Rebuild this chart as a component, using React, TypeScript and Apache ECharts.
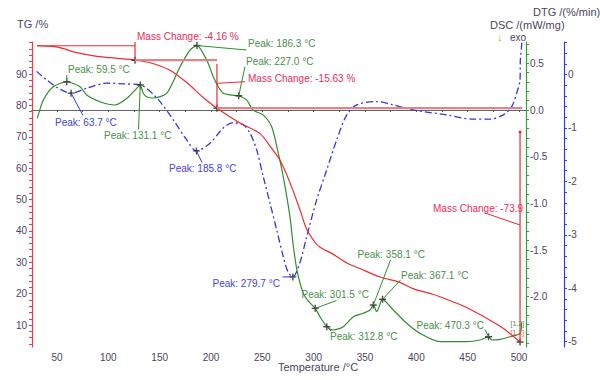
import React, { useEffect, useRef } from 'react';
import * as echarts from 'echarts';

// ---------- data ----------
const tgTemp = [30.5, 45, 52.9, 69.5, 89, 108.4, 126, 140.6, 160, 176.6, 192.2, 205.8, 228.2, 247.7, 257.5, 267.2, 277, 286.7, 293.2, 301.4, 306.2, 318.8, 332.2, 345, 364.6, 384, 396.7, 416, 423, 449, 482, 501];
const tgValues = [99.0, 98.8, 98.4, 96.8, 95.6, 95.0, 94.4, 93.6, 91.2, 87.2, 82.6, 79.1, 74.4, 71.0, 67.0, 62.5, 55.3, 46.7, 40.5, 36.3, 34.8, 32.6, 29.8, 28.0, 25.3, 23.6, 21.6, 19.8, 19.0, 15.6, 9.5, 4.6];

const dscTemp = [30.8, 36.7, 46.4, 59.5, 72.4, 78.9, 91.9, 106.5, 117.9, 127.6, 131.1, 134, 137.4, 143.5, 156.8, 169.8, 179.5, 186.3, 195.8, 202.2, 207.1, 212, 220, 227, 234.8, 240.9, 251, 259.1, 265.5, 270.4, 276.9, 280.1, 283.8, 289.9, 295, 301.5, 306.2, 312.8, 319.1, 328.9, 338.6, 348.3, 354.9, 358.1, 361.4, 367.1, 377.6, 390.6, 403.6, 423, 449, 462, 470.3, 473.7, 481.5, 491.2, 501, 502.6];
const dscValues = [-0.09, 0.107, 0.25, 0.303, 0.25, 0.16, 0.089, 0.054, 0.125, 0.232, 0.268, 0.18, 0.143, 0.129, 0.179, 0.464, 0.643, 0.691, 0.536, 0.357, 0.25, 0.179, 0.16, 0.153, 0.107, 0.0, -0.054, -0.179, -0.461, -0.715, -1.143, -1.45, -1.72, -1.964, -2.05, -2.125, -2.215, -2.322, -2.357, -2.322, -2.215, -2.178, -2.143, -2.089, -2.161, -2.028, -2.143, -2.285, -2.393, -2.482, -2.482, -2.464, -2.429, -2.464, -2.457, -2.429, -2.393, -2.28];

const dtgTemp = [30.1, 40, 51.3, 63.7, 78.9, 98.4, 114.6, 130.8, 147.1, 163.3, 176.3, 185.8, 199, 212, 221.7, 231.5, 238, 244.5, 250.9, 257.5, 264, 270.4, 275, 279.7, 286.5, 293.2, 302.9, 312.7, 322.4, 332.2, 341.9, 361.4, 377.6, 397, 429.6, 455.5, 471.7, 484.7, 492.9, 497.7, 501, 501.3, 502.6, 499.5];
const dtgValues = [0.06, -0.099, -0.255, -0.348, -0.255, -0.161, -0.174, -0.193, -0.436, -0.848, -1.223, -1.429, -1.285, -0.998, -0.899, -0.942, -1.097, -1.41, -1.91, -2.41, -2.91, -3.41, -3.695, -3.788, -3.526, -3.034, -2.346, -1.785, -1.223, -0.755, -0.567, -0.506, -0.567, -0.661, -0.755, -0.835, -0.835, -0.755, -0.599, -0.348, -0.099, 0.275, 0.588, 0.61];

const tgPeakTemp = [126, 205.8, 501];
const tgPeakValues = [94.4, 79.1, 4.6];
const dscPeakTemp = [59.5, 131.1, 186.3, 227.0, 301.5, 312.8, 358.1, 367.1, 470.3];
const dscPeakValues = [0.303, 0.268, 0.691, 0.153, -2.125, -2.322, -2.089, -2.028, -2.429];
const dtgPeakTemp = [63.7, 185.8, 279.7];
const dtgPeakValues = [-0.348, -1.429, -3.788];

const xTickLabels = [50, 100, 150, 200, 250, 300, 350, 400, 450, 500];
const tgTickLabels = [10, 20, 30, 40, 50, 60, 70, 80, 90];
const dscTickLabels = [0.5, 0.0, -0.5, -1.0, -1.5, -2.0];
const dtgTickLabels = [0, -1, -2, -3, -4, -5];

const massChangeTexts = ['Mass Change: -4.16 %', 'Mass Change: -15.63 %', 'Mass Change: -73.9'];

// ---------- styles ----------
const FONT = '"Liberation Sans", Arial, sans-serif';
const RED = '#ee2a2f';
const PINK = '#d9888a';
const GREEN = '#2f8c2f';
const BLUE = '#3535e6';
const LABEL = '#4b4560';
const TXT_RED = '#ec2a5a';
const TXT_GREEN = '#4a8f4a';
const TXT_BLUE = '#4343e0';
const PLUS = 'path://M4,0H6V4H10V6H6V10H4V6H0V4H4Z';

const range = (a: number, b: number, step: number) => {
  const out: number[] = [];
  const n = Math.round((b - a) / step);
  for (let i = 0; i <= n; i++) out.push(+(a + i * step).toFixed(4));
  return out;
};

const zip = (xs: number[], ys: number[]) => xs.map((x, i) => [x, ys[i]]);

export default function App() {
  const ref = useRef<HTMLDivElement>(null);
  useEffect(() => {
    document.body.style.margin = '0';
    if (!ref.current) return;
    const chart = echarts.init(ref.current, null, { renderer: 'svg' });
    const axisLabelBase = { color: LABEL, fontSize: 10, fontFamily: FONT };
    const option: any = {
      animation: false,
      textStyle: { fontFamily: FONT },
      grid: { left: 32, right: 74, top: 42, bottom: 33, containLabel: false },
      xAxis: {
        type: 'value',
        min: 25.65,
        max: 506.8,
        axisLine: { show: true, lineStyle: { color: '#666', width: 1.2 } },
        axisTick: { show: true, length: 2, customValues: range(50, 500, 25), lineStyle: { color: '#555' } },
        axisLabel: { ...axisLabelBase, margin: 5, customValues: xTickLabels },
        splitLine: { show: false },
      },
      yAxis: [
        {
          type: 'value', position: 'left', min: 3, max: 100.2,
          axisLine: { show: true, lineStyle: { color: '#f03a48', width: 1.2 } },
          axisTick: { show: true, length: 3, customValues: range(4, 100, 2), lineStyle: { color: '#f03a48' } },
          axisLabel: { ...axisLabelBase, margin: 5, customValues: tgTickLabels },
          splitLine: { show: false },
        },
        {
          type: 'value', position: 'right', offset: 0, min: -2.539, max: 0.729,
          axisLine: { show: true, onZero: false, lineStyle: { color: '#35a035', width: 1.2 } },
          axisTick: { show: true, length: 3, customValues: range(-2.5, 0.7, 0.1), lineStyle: { color: '#35a035' } },
          axisLabel: { ...axisLabelBase, margin: 4, customValues: dscTickLabels, formatter: (v: number) => v.toFixed(1) },
          splitLine: { show: false },
        },
        {
          type: 'value', position: 'right', offset: 38, min: -5.1, max: 0.61,
          axisLine: { show: true, onZero: false, lineStyle: { color: '#2f3ff0', width: 1.2 } },
          axisTick: { show: true, length: 3, customValues: range(-5.0, 0.6, 0.2), lineStyle: { color: '#2f3ff0' } },
          axisLabel: { ...axisLabelBase, margin: 4, customValues: dtgTickLabels, formatter: (v: number) => String(Math.round(v)) },
          splitLine: { show: false },
        },
      ],
      series: [
        {
          type: 'line', name: 'DTG', yAxisIndex: 2, data: zip(dtgTemp, dtgValues), smooth: 0.3,
          showSymbol: false, lineStyle: { color: BLUE, width: 1.3, type: [7, 3, 2, 3] }, z: 2,
        },
        {
          type: 'line', name: 'DSC', yAxisIndex: 1, data: zip(dscTemp, dscValues), smooth: 0.25,
          showSymbol: false, lineStyle: { color: GREEN, width: 1.2 }, z: 3,
        },
        {
          type: 'line', name: 'TG', yAxisIndex: 0, data: zip(tgTemp, tgValues), smooth: 0.3,
          showSymbol: false, lineStyle: { color: RED, width: 1.2 }, z: 4,
        },
        { type: 'scatter', yAxisIndex: 0, data: zip(tgPeakTemp, tgPeakValues), symbol: PLUS, symbolSize: 7, itemStyle: { color: '#222' }, z: 10 },
        { type: 'scatter', yAxisIndex: 1, data: zip(dscPeakTemp, dscPeakValues), symbol: PLUS, symbolSize: 7, itemStyle: { color: '#222' }, z: 10 },
        { type: 'scatter', yAxisIndex: 2, data: zip(dtgPeakTemp, dtgPeakValues), symbol: PLUS, symbolSize: 7, itemStyle: { color: '#222' }, z: 10 },
      ],
    };
    chart.setOption(option);

    const px = (yi: number, t: number, v: number) =>
      chart.convertToPixel({ xAxisIndex: 0, yAxisIndex: yi } as any, [t, v]) as number[];

    const g: any[] = [];
    const text = (t: string, x: number, y: number, fill: string, size = 10, align = 'left') =>
      g.push({ type: 'text', x, y, z: 100, style: { text: t, fill, font: `${size}px ${FONT}`, verticalAlign: 'middle', align } });
    const line = (x1: number, y1: number, x2: number, y2: number, stroke: string, lw = 1) =>
      g.push({ type: 'line', z: 50, shape: { x1, y1, x2, y2 }, style: { stroke, lineWidth: lw } });

    // axis titles
    text('TG /%', 17, 24, LABEL, 11);
    text('DTG /(%/min)', 533, 12, LABEL, 11);
    text('DSC /(mW/mg)', 490, 25, LABEL, 11);
    text('↓', 497, 37, '#c49a5a', 11);
    text('exo', 510, 37, LABEL, 10);
    text('Temperature /°C', 318, 367, LABEL, 11, 'center');

    // mass change step 1
    const a0 = px(0, tgTemp[0], tgValues[0]);
    const a1 = px(0, tgPeakTemp[0], tgPeakValues[0]);
    line(a0[0], a0[1], a1[0], a0[1], RED, 1.2);
    line(a1[0], 42, a1[0], a1[1], RED, 1.2);
    const b1 = px(0, tgPeakTemp[1], tgPeakValues[1]);
    line(a1[0], a1[1], b1[0], a1[1], PINK, 2.2);
    text(massChangeTexts[0], 137, 36, TXT_RED);
    // step 2
    line(b1[0], 64, b1[0], b1[1], RED, 1.2);
    line(b1[0], 83.3, 245, 81.7, RED, 1);
    const c1 = px(0, tgPeakTemp[2], tgPeakValues[2]);
    line(b1[0], b1[1], c1[0] + 2, b1[1], PINK, 2.2);
    text(massChangeTexts[1], 248, 78, TXT_RED);
    // step 3
    line(c1[0], 132, c1[0], c1[1], RED, 1.2);
    g.push({ type: 'circle', z: 60, shape: { cx: c1[0], cy: 132, r: 1.5 }, style: { fill: RED } });
    line(485, 213, c1[0], 225, RED, 1);
    text(massChangeTexts[2], 433, 208.5, TXT_RED);

    // peak labels
    const dsc = (i: number) => px(1, dscPeakTemp[i], dscPeakValues[i]);
    const dtg = (i: number) => px(2, dtgPeakTemp[i], dtgPeakValues[i]);
    const peakTxt = (t: number) => `Peak: ${t.toFixed(1)} °C`;

    let p = dsc(0); line(p[0], p[1], p[0], 75, GREEN); text(peakTxt(dscPeakTemp[0]), 68, 69.5, TXT_GREEN);
    p = dtg(0); line(p[0], p[1], 83, 115.5, BLUE); text(peakTxt(dtgPeakTemp[0]), 55, 122, TXT_BLUE);
    p = dsc(1); line(p[0], p[1], 138.5, 129.5, GREEN); text(peakTxt(dscPeakTemp[1]), 104, 135, TXT_GREEN);
    p = dtg(1); line(p[0], p[1], 202, 162.5, BLUE); text(peakTxt(dtgPeakTemp[1]), 169, 168.5, TXT_BLUE);
    p = dsc(2); line(p[0], p[1], 246.5, 50, GREEN); text(peakTxt(dscPeakTemp[2]), 248, 43.5, TXT_GREEN);
    p = dsc(3); line(p[0], p[1], 245, 66.5, GREEN); text(peakTxt(dscPeakTemp[3]), 246, 61, TXT_GREEN);
    p = dtg(2); line(p[0], p[1], 282.5, p[1], BLUE); text(peakTxt(dtgPeakTemp[2]), 212.5, 283, TXT_BLUE);
    p = dsc(4); line(p[0], p[1], 336.5, 300.5, GREEN); text(peakTxt(dscPeakTemp[4]), 301.5, 294.5, TXT_GREEN);
    p = dsc(5); line(p[0], p[1], 331, 331, GREEN); text(peakTxt(dscPeakTemp[5]), 330, 336.5, TXT_GREEN);
    p = dsc(6); line(p[0], p[1], 390.5, 260, GREEN); text(peakTxt(dscPeakTemp[6]), 357.5, 254.5, TXT_GREEN);
    p = dsc(7); line(p[0], p[1], 400.5, 280, GREEN); text(peakTxt(dscPeakTemp[7]), 401, 275, TXT_GREEN);
    p = dsc(8); line(p[0], p[1], 485, 329.5, GREEN); text(peakTxt(dscPeakTemp[8]), 416.5, 325, TXT_GREEN);

    text('[1.2]', 510.5, 323, TXT_GREEN, 7);
    text('[1.1]', 510.5, 332, '#f06040', 7);

    chart.setOption({ graphic: { elements: g } });
    return () => chart.dispose();
  }, []);
  return <div ref={ref} style={{ width: 600, height: 380 }} />;
}
